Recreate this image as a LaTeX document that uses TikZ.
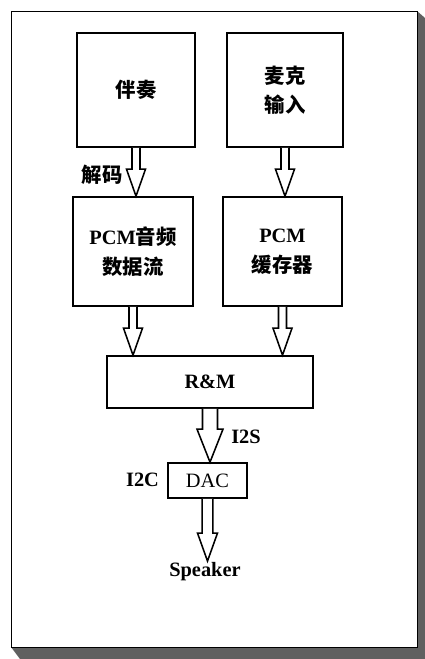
\documentclass[tikz,border=0pt]{standalone}
\usepackage{fontspec}
\setmainfont{Liberation Serif}
\newfontfamily\cjk{Noto Sans CJK SC}
\usepackage{tikz}
\usetikzlibrary{calc, positioning}
\tikzset{
	blockbox/.style={
			draw=black,
			line width=1.2pt,
			fill=white,
			inner sep=0pt,
			align=center,
			font=\fontsize{14.5}{21}\selectfont\bfseries
		},
	labeltext/.style={
			inner sep=1pt,
			font=\fontsize{14.5}{17}\selectfont\bfseries
		},
	fatline/.style={
			draw=black,
			line width=1.1pt,
			fill=white,
			line join=miter
		}
}
% hollow block arrow: shaft, head width, head length, from, to
\newcommand{\fatarrow}[5]{%
	\draw[fatline] ($(#4)+(-#1/2,0)$) -- ($(#4 |- #5)+(-#1/2,#3)$) -- ($(#4 |- #5)+(-#2/2,#3)$)
		-- (#4 |- #5) -- ($(#4 |- #5)+(#2/2,#3)$) -- ($(#4 |- #5)+(#1/2,#3)$) -- ($(#4)+(#1/2,0)$);
}

\begin{document}
\begin{tikzpicture}
\useasboundingbox (0,0) rectangle (10.625,-16.475);
% frame and shadow
\fill[gray!75!black] (10.425,-0.275) -- (10.625,-0.45) -- (10.625,-16.475) -- (0.5,-16.475) -- (0.275,-16.175) -- (10.425,-16.175) -- cycle;
\draw[line width=0.7pt, fill=white] (0.275,-0.275) rectangle (10.425,-16.175);

\node[blockbox, minimum width=2.95cm, minimum height=2.85cm] (bz) at (3.4,-2.25) {\cjk 伴奏};
\node[blockbox, minimum width=2.9cm, minimum height=2.85cm] (mic) at (7.125,-2.25) {\cjk 麦克\\\cjk 输入};
\node[blockbox, minimum width=3.0cm, minimum height=2.725cm] (pcm) at (3.325,-6.2875) {PCM{\cjk 音频}\\\cjk 数据流};
\node[blockbox, minimum width=2.975cm, minimum height=2.725cm] (buf) at (7.0625,-6.2875) {PCM\\\cjk 缓存器};
\node[blockbox, minimum width=5.15cm, minimum height=1.3cm] (rm) at (5.25,-9.55) {R\&M};
\node[blockbox, font=\fontsize{14.5}{17}\selectfont, minimum width=1.975cm, minimum height=0.875cm] (dac) at (5.1875,-12.0125) {DAC};
\node[labeltext] (spk) at (5.125,-14.3) {Speaker};

\node[labeltext] (dec) at (2.55,-4.375) {\cjk 解码};
\node[labeltext] (i2s) at (6.15,-10.925) {I2S};
\node[labeltext] (i2c) at (3.5625,-12.0) {I2C};

\fatarrow{0.2}{0.475}{0.675}{bz.south}{pcm.north}
\fatarrow{0.2}{0.475}{0.675}{mic.south}{buf.north}
\fatarrow{0.2}{0.475}{0.675}{pcm.south}{rm.north}
\fatarrow{0.2}{0.475}{0.675}{buf.south}{rm.north}
\fatarrow{0.375}{0.65}{0.825}{rm.south}{dac.north}
\fatarrow{0.265}{0.5}{0.7}{dac.south}{spk.north}

\end{tikzpicture}
\end{document}
